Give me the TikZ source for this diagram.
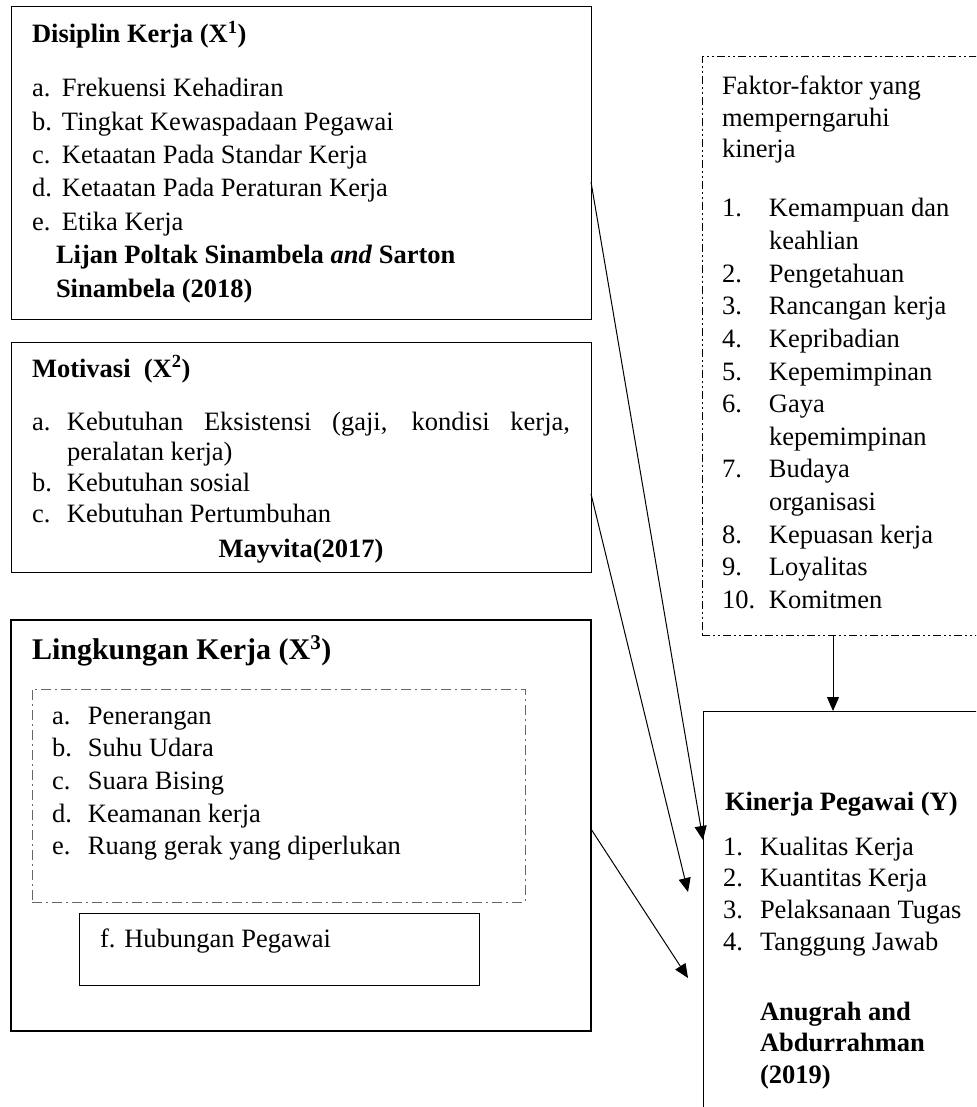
\documentclass[tikz,border=0pt]{standalone}
\usepackage{fontspec}
\setmainfont{Liberation Serif}
\usetikzlibrary{arrows.meta,calc}
\newcommand\fsz{\fontsize{26.5}{32.6}\selectfont}
\tikzset{
  box/.style={draw, line width=1pt, anchor=north west, inner sep=0pt, outer sep=0pt},
  txt/.style={anchor=base west, inner sep=0pt, outer sep=0pt, font=\fsz},
  arr/.style={-{Triangle[length=14pt,width=12pt]}, line width=1pt},
  dashdot/.style={dash pattern=on 10pt off 4pt on 2pt off 4pt},
  dashdotdot/.style={dash pattern=on 8pt off 3pt on 2pt off 3pt on 2pt off 3pt},
}
\begin{document}
\begin{tikzpicture}[x=1pt,y=-1pt]
\useasboundingbox (0,0) rectangle (976,1107);
\clip (0,0) rectangle (976,1107);
\fill[white] (0,0) rectangle (976,1107);

% Box 1: Disiplin Kerja
\node[box, minimum width=580pt, minimum height=312pt] (b1) at (11,7) {};
\node[txt] (b1t) at (32,43) {\textbf{Disiplin Kerja (X\textsuperscript{1})}};
\node[txt] (b1l) at (32,97) {\fontsize{26.5}{33.3}\selectfont\begin{tabular}[t]{@{}p{30pt}@{}l@{}}
a.&Frekuensi Kehadiran\\
b.&Tingkat Kewaspadaan Pegawai\\
c.&Ketaatan Pada Standar Kerja\\
d.&Ketaatan Pada Peraturan Kerja\\
e.&Etika Kerja
\end{tabular}};
\node[txt] (b1c) at (56,263) {\fontsize{26.5}{34}\selectfont\bfseries\begin{tabular}[t]{@{}l@{}}
Lijan Poltak Sinambela \textit{and} Sarton\\
Sinambela (2018)
\end{tabular}};

% Box 2: Motivasi
\node[box, minimum width=580pt, minimum height=230pt] (b2) at (11,342) {};
\node[txt] (b2t) at (32,377) {\textbf{Motivasi\ \ (X\textsuperscript{2})}};
\node[txt] (b2l) at (32,430) {\fontsize{26.5}{30.7}\selectfont\begin{tabular}[t]{@{}p{35pt}@{}l@{}}
a.&\makebox[503pt][s]{Kebutuhan Eksistensi (gaji, kondisi kerja,}\\
&peralatan kerja)\\
b.&Kebutuhan sosial\\
c.&Kebutuhan Pertumbuhan
\end{tabular}};
\node[anchor=base, inner sep=0pt, font=\fsz] (b2c) at (301,557) {\textbf{Mayvita(2017)}};

% Box 3: Lingkungan Kerja
\node[box, line width=2pt, minimum width=580pt, minimum height=411pt] (b3) at (11,620) {};
\node[txt, font=\fontsize{30}{36}\selectfont] (b3t) at (32,659) {\textbf{Lingkungan Kerja (X\textsuperscript{3})}};
\node[box, draw=black!60, dashdot, minimum width=493pt, minimum height=213pt] (b3in) at (32,689) {};
\node[txt] (b3l) at (52,724) {\fontsize{26.5}{32.7}\selectfont\begin{tabular}[t]{@{}p{36pt}@{}l@{}}
a.&Penerangan\\
b.&Suhu Udara\\
c.&Suara Bising\\
d.&Keamanan kerja\\
e.&Ruang gerak yang diperlukan
\end{tabular}};
\node[box, minimum width=400pt, minimum height=72pt] (hub) at (79,913) {};
\node[txt] (hubt) at (100,947) {f. Hubungan Pegawai};

% Faktor box
\node[box, dashdotdot, minimum width=300pt, minimum height=578pt] (fak) at (702,57) {};
\node[txt] (fakt) at (722,95) {\fontsize{26.5}{31.5}\selectfont\begin{tabular}[t]{@{}l@{}}
Faktor-faktor yang\\
memperngaruhi\\
kinerja
\end{tabular}};
\node[txt] (fakl) at (722,217) {\fontsize{26.5}{32.6}\selectfont\begin{tabular}[t]{@{}p{47pt}@{}l@{}}
1.&Kemampuan dan\\
&keahlian\\
2.&Pengetahuan\\
3.&Rancangan kerja\\
4.&Kepribadian\\
5.&Kepemimpinan\\
6.&Gaya\\
&kepemimpinan\\
7.&Budaya\\
&organisasi\\
8.&Kepuasan kerja\\
9.&Loyalitas\\
10.&Komitmen
\end{tabular}};

% Kinerja box (open to the right and bottom)
\node[box, draw=none, minimum width=300pt, minimum height=420pt] (kin) at (703,711) {};
\draw[line width=1pt] (kin.north east) -- (kin.north west) -- (kin.south west);
\node[txt] (kint) at (725,810) {\textbf{Kinerja Pegawai (Y)}};
\node[txt] (kinl) at (723,855) {\fontsize{26.5}{31.7}\selectfont\begin{tabular}[t]{@{}p{37pt}@{}l@{}}
1.&Kualitas Kerja\\
2.&Kuantitas Kerja\\
3.&Pelaksanaan Tugas\\
4.&Tanggung Jawab
\end{tabular}};
\node[txt] (kinc) at (760,1020) {\fontsize{26.5}{31.5}\selectfont\bfseries\begin{tabular}[t]{@{}l@{}}
Anugrah and\\
Abdurrahman\\
(2019)
\end{tabular}};

% Arrows
\draw[arr] ($(b1.north east)+(0,175)$) -- ($(kin.north west)+(0,129)$);
\draw[arr] ($(b2.north east)+(0,152)$) -- ($(kin.north west)+(-15,181)$);
\draw[arr] ($(b3.north east)+(0,209)$) -- ($(kin.north west)+(-15,267)$);
\draw[arr] ($(fak.south west)+(131,0)$) -- ($(kin.north west)+(130,0)$);
\end{tikzpicture}
\end{document}
